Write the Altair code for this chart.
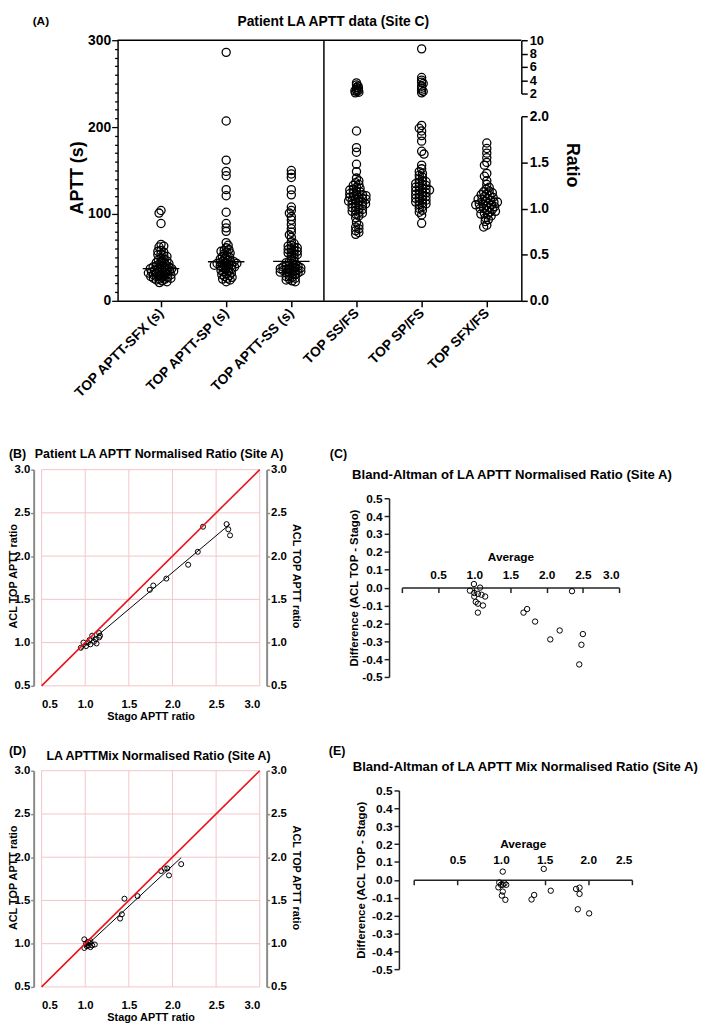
import json
import altair as alt
import pandas as pd

FONT = "Liberation Sans"
PINK = "#f4c4c7"
GREY = "#8a8a8a"
RED = "#e8141c"
W, H = 701, 1014

# ---------------- Panel A data ----------------
categories = ["TOP APTT-SFX (s)", "TOP APTT-SP (s)", "TOP APTT-SS (s)",
              "TOP SS/FS", "TOP SP/FS", "TOP SFX/FS"]

sfx_s = [104, 101, 89, 65, 63, 62, 58, 57, 56, 54, 53, 52, 51, 49, 48, 47, 46, 45, 44, 44,
         43, 42, 41, 41, 40, 39, 39, 38, 38, 37, 37, 36, 36, 35, 35, 34, 34, 33, 33, 33,
         32, 32, 31, 31, 30, 30, 29, 29, 28, 28, 27, 27, 26, 26, 25, 25, 24, 23, 22, 21]
sp_s = [286, 207, 162, 149, 144, 128, 121, 102, 89, 84, 80, 67, 64, 61, 59, 58, 57, 56, 55,
        54, 52, 51, 50, 49, 48, 47, 46, 45, 45, 44, 44, 43, 43, 42, 42, 41, 41, 40, 40, 39,
        38, 38, 37, 36, 35, 34, 33, 32, 31, 30, 29, 28, 27, 26, 25, 24, 22]
ss_s = [150, 146, 142, 128, 122, 108, 104, 101, 97, 93, 88, 83, 79, 76, 73, 68, 66, 64, 63,
        62, 61, 60, 59, 58, 57, 56, 55, 54, 53, 52, 50, 48, 46, 45, 44, 43, 42, 41, 40, 40,
        39, 39, 38, 38, 37, 37, 36, 36, 35, 35, 34, 34, 33, 33, 32, 32, 31, 30, 29, 28, 27,
        26, 25, 24, 23, 22]
ss_fs = [3.6, 3.3, 3.1, 2.9, 2.8, 2.6, 2.5, 2.4, 2.3, 2.2, 2.1, 1.84, 1.66, 1.61, 1.48,
         1.40, 1.33, 1.30, 1.28, 1.26, 1.25, 1.23, 1.22, 1.21, 1.20, 1.19, 1.18, 1.17, 1.16,
         1.15, 1.15, 1.14, 1.13, 1.12, 1.12, 1.11, 1.10, 1.10, 1.09, 1.08, 1.08, 1.07, 1.06,
         1.05, 1.05, 1.04, 1.03, 1.02, 1.01, 1.00, 0.99, 0.98, 0.97, 0.96, 0.95, 0.94, 0.92,
         0.90, 0.85, 0.82, 0.80, 0.78, 0.76, 0.74, 0.72]
sp_fs = [8.7, 4.4, 4.0, 3.7, 3.5, 3.1, 2.8, 2.5, 2.3, 2.1, 1.9, 1.87, 1.84, 1.79, 1.73, 1.62,
         1.59, 1.47, 1.43, 1.40, 1.38, 1.36, 1.34, 1.32, 1.30, 1.29, 1.28, 1.27, 1.26, 1.25,
         1.24, 1.23, 1.22, 1.21, 1.20, 1.20, 1.19, 1.18, 1.17, 1.16, 1.15, 1.14, 1.13, 1.12,
         1.11, 1.10, 1.09, 1.08, 1.07, 1.06, 1.05, 1.04, 1.02, 1.00, 0.98, 0.96, 0.93, 0.84]
sfx_fs = [1.71, 1.65, 1.60, 1.55, 1.50, 1.47, 1.38, 1.35, 1.30, 1.26, 1.23, 1.21, 1.19, 1.18,
          1.17, 1.16, 1.15, 1.14, 1.13, 1.12, 1.11, 1.10, 1.10, 1.09, 1.08, 1.07, 1.07, 1.06,
          1.05, 1.05, 1.04, 1.04, 1.03, 1.02, 1.01, 1.00, 1.00, 0.99, 0.98, 0.97, 0.96, 0.95,
          0.94, 0.93, 0.92, 0.90, 0.88, 0.86, 0.82, 0.80]

# ---------------- Panels B-E data ----------------
stago_B = [0.95, 0.98, 1.03, 1.01, 1.06, 1.08, 1.10, 1.12, 1.13, 1.16, 1.16, 1.17, 1.05,
           1.74, 1.78, 1.93, 2.18, 2.29, 2.35, 2.62, 2.64, 2.66]
acl_B = [0.94, 1.00, 1.00, 0.96, 0.98, 1.08, 1.01, 1.04, 0.99, 1.11, 1.06, 1.08, 1.03,
         1.61, 1.66, 1.74, 1.90, 2.05, 2.34, 2.37, 2.31, 2.24]

avg_C = [0.995, 0.94, 1.08, 1.0, 1.0, 1.05, 1.10, 1.15, 1.02, 1.05, 1.12, 1.05, 1.68, 1.73,
         1.84, 2.05, 2.18, 2.35, 2.50, 2.48, 2.45]
diff_C = [0.02, -0.017, 0.0, -0.03, -0.05, -0.035, -0.04, -0.05, -0.08, -0.09, -0.10, -0.14,
          -0.14, -0.12, -0.19, -0.29, -0.24, -0.02, -0.26, -0.32, -0.43]

stago_D = [0.99, 0.99, 1.01, 1.03, 1.04, 1.06, 1.06, 1.08, 1.11, 1.05, 1.02, 1.40, 1.42,
           1.45, 1.60, 1.87, 1.91, 1.94, 1.96, 2.10]
acl_D = [1.05, 0.95, 1.00, 1.02, 0.98, 0.96, 1.03, 0.98, 0.99, 1.01, 0.97, 1.29, 1.34,
         1.52, 1.55, 1.84, 1.87, 1.87, 1.79, 1.92]

avg_E = [1.02, 0.97, 0.98, 1.00, 1.02, 1.04, 1.06, 1.02, 1.01, 1.05, 1.49, 1.35, 1.38, 1.57,
         1.86, 1.90, 1.90, 1.88, 2.01]
diff_E = [0.046, -0.042, -0.015, -0.028, -0.028, -0.02, -0.028, -0.066, -0.088, -0.112,
          0.061, -0.11, -0.085, -0.061, -0.051, -0.044, -0.079, -0.165, -0.188]

grid_vals = [0.5, 1.0, 1.5, 2.0, 2.5, 3.0]

# ---------------- geometry (pixels inside the single view) ----------------
A_X = [110, 519]
A_APTT_Y = [289, 25]
A_LOW_Y = [289, 102]
A_HIGH_Y = [79, 25]
A_XDOM = [-0.6667, 5.530]
BAND = (A_X[1] - A_X[0]) / (A_XDOM[1] - A_XDOM[0])


def ypix(v, seg):
    if seg == "aptt":
        return A_APTT_Y[0] + (A_APTT_Y[1] - A_APTT_Y[0]) * v / 300.0
    if seg == "low":
        return A_LOW_Y[0] + (A_LOW_Y[1] - A_LOW_Y[0]) * v / 2.0
    return A_HIGH_Y[0] + (A_HIGH_Y[1] - A_HIGH_Y[0]) * (v - 2.0) / 8.0


def swarm(ys, d, step=0.4):
    order = sorted(range(len(ys)), key=lambda i: ys[i])
    placed, offs = [], [0.0] * len(ys)
    for n, i in enumerate(order):
        y = ys[i]
        k = 0
        found = None
        while found is None:
            if k == 0:
                cands = [0.0]
            else:
                cands = [k * step, -k * step] if n % 2 == 0 else [-k * step, k * step]
            for c in cands:
                if all((c - px) ** 2 + (y - py) ** 2 >= d * d for px, py in placed):
                    found = c
                    break
            k += 1
        offs[i] = found
        placed.append((found, y))
    return offs


SWARM_D = {"aptt": 3.3, "low": 3.6, "high": 2.0}
rows = []
for idx, vals in enumerate([sfx_s, sp_s, ss_s, ss_fs, sp_fs, sfx_fs]):
    ratio = idx >= 3
    segs = ["aptt"] if not ratio else ["low", "high"]
    for seg in segs:
        if seg == "aptt":
            sv = list(vals)
        elif seg == "low":
            sv = [v for v in vals if v <= 2.0]
        else:
            sv = [v for v in vals if v > 2.0]
        if not sv:
            continue
        offs = swarm([ypix(v, seg) for v in sv], d=SWARM_D[seg])
        for v, o in zip(sv, offs):
            rows.append({"idx": idx, "value": v, "off": o / BAND, "seg": seg,
                         "grp": "ratio" if ratio else "aptt"})
dfA = pd.DataFrame(rows)

one = alt.Data(values=[{}])


def txt(s, x, y, size, align="center"):
    return alt.Chart(one).mark_text(text=s, font=FONT, fontWeight="bold", fontSize=size,
                                    align=align, baseline="middle", color="black").encode(
        x=alt.value(x), y=alt.value(y))


def scl(domain, rng):
    return alt.Scale(domain=domain, range=rng, nice=False, zero=False)


layers = []

# ---------------- Panel A ----------------
lab_expr = json.dumps(categories) + "[datum.value]"
x_axis_A = alt.Axis(orient="bottom", offset=A_APTT_Y[0] - H, values=[0, 1, 2, 3, 4, 5],
                    labelExpr=lab_expr, labelAngle=-45, labelAlign="right",
                    labelBaseline="middle", labelFontSize=14, labelPadding=4, tickSize=6,
                    tickColor="black", tickWidth=1.5, domainColor="black", domainWidth=1.5,
                    grid=False, title=None, labelOverlap=False)


def xA(axis=None):
    return alt.X("xpos:Q", scale=scl(A_XDOM, A_X), axis=axis)


base = alt.Chart(dfA).transform_calculate(xpos="datum.idx + datum.off")
circ = dict(shape="circle", filled=False, color="black", size=68, strokeWidth=1.3, opacity=1)

layers.append(alt.Chart(one).mark_rule(color="black", strokeWidth=1.5).encode(
    x=alt.value(A_X[0]), x2=alt.value(A_X[1]), y=alt.value(A_APTT_Y[1])))
layers.append(alt.Chart(pd.DataFrame({"xpos": [2.5]})).mark_rule(
    color="black", strokeWidth=1.5).encode(
    x=xA(), y=alt.value(A_APTT_Y[1]), y2=alt.value(A_APTT_Y[0])))

# median line of the seconds columns
layers.append(
    alt.Chart(dfA).transform_filter("datum.grp == 'aptt'")
    .transform_aggregate(med="median(value)", groupby=["idx"])
    .transform_calculate(xpos="datum.idx - 0.28", xend="datum.idx + 0.28")
    .mark_rule(color="black", strokeWidth=1.3)
    .encode(x=xA(), x2="xend:Q", y=alt.Y("med:Q", scale=scl([0, 300], A_APTT_Y), axis=None)))

layers.append(base.transform_filter("datum.seg == 'aptt'").mark_point(**circ).encode(
    x=xA(x_axis_A),
    y=alt.Y("value:Q", scale=scl([0, 300], A_APTT_Y),
            axis=alt.Axis(orient="left", offset=-A_X[0], values=list(range(0, 301, 10)),
                          labelExpr="datum.value % 100 === 0 ? datum.label : ''",
                          tickSize={"condition": {"test": "datum.value % 100 === 0", "value": 6},
                                    "value": 3},
                          tickColor="black", tickWidth=1.3, domainColor="black", domainWidth=1.5,
                          labelFontSize=14, labelPadding=1, labelOverlap=False, grid=False,
                          title="APTT (s)", titleFontSize=18, titleX=-41, titleY=164,
                          titleAngle=-90, titleBaseline="middle", titleAlign="center"))))

layers.append(base.transform_filter("datum.seg == 'low'").mark_point(**circ).encode(
    x=xA(),
    y=alt.Y("value:Q", scale=scl([0, 2], A_LOW_Y),
            axis=alt.Axis(orient="right", offset=A_X[1] - W, values=[0, 0.5, 1, 1.5, 2],
                          format=".1f", tickSize=6, tickColor="black", tickWidth=1.5,
                          domainColor="black", domainWidth=1.5, labelFontSize=14,
                          labelPadding=2, grid=False, labelOverlap=False,
                          title="Ratio", titleFontSize=18, titleX=51, titleY=151, titleAngle=90,
                          titleBaseline="middle", titleAlign="center"))))

layers.append(base.transform_filter("datum.seg == 'high'").mark_point(**circ).encode(
    x=xA(),
    y=alt.Y("value:Q", scale=scl([2, 10], A_HIGH_Y),
            axis=alt.Axis(orient="right", offset=A_X[1] - W, values=[2, 4, 6, 8, 10],
                          format="d", tickSize=6, tickColor="black", tickWidth=1.5,
                          domainColor="black", domainWidth=1.5, labelFontSize=13,
                          labelPadding=2, grid=False, labelOverlap=False, title=None))))

layers.append(txt("(A)", 24, 6, 12, "left"))
layers.append(txt("Patient LA APTT data (Site C)", 328.5, 6.5, 14))


# ---------------- Panels B / D ----------------
def corr_panel(xs, ys, title, tag, xr, yr, tpos, tagpos, ytitle_y):
    df = pd.DataFrame({"stago": xs, "acl": ys})
    dom = [0.5, 3.0]
    out = []
    g = pd.DataFrame({"g": grid_vals})
    out.append(alt.Chart(g).mark_rule(color=PINK, strokeWidth=1).encode(
        x=alt.X("g:Q", scale=scl(dom, xr), axis=None), y=alt.value(yr[1]), y2=alt.value(yr[0])))
    out.append(alt.Chart(g).mark_rule(color=PINK, strokeWidth=1).encode(
        y=alt.Y("g:Q", scale=scl(dom, yr), axis=None), x=alt.value(xr[0]), x2=alt.value(xr[1])))
    xax = alt.Axis(orient="bottom", offset=yr[0] - H, values=grid_vals, format=".1f",
                   domain=False, ticks=False, grid=False, labelFontSize=11.5, labelPadding=13,
                   labelOverlap=False, title="Stago APTT ratio", titleFontSize=11,
                   titleY=31, titleX=(xr[0] + xr[1]) / 2.0, titleBaseline="middle",
                   titleAlign="center")
    common = dict(values=grid_vals, format=".1f", domainColor=GREY, domainWidth=2,
                  tickColor=GREY, tickWidth=1.5, tickSize=3, labelPadding=1,
                  labelFontSize=11.5, labelOverlap=False, grid=False,
                  title="ACL TOP APTT ratio", titleFontSize=11, titleY=ytitle_y,
                  titleBaseline="middle", titleAlign="center")
    yl = alt.Axis(orient="left", offset=-(xr[0] - 8), titleX=-20, titleAngle=-90, **common)
    yrax = alt.Axis(orient="right", offset=(xr[1] + 7) - W, titleX=29, titleAngle=90, **common)
    out.append(alt.Chart(df).mark_point(shape="circle", filled=False, color="black", size=26,
                                        strokeWidth=1, opacity=1).encode(
        x=alt.X("stago:Q", scale=scl(dom, xr), axis=xax),
        y=alt.Y("acl:Q", scale=scl(dom, yr), axis=yl)))
    out.append(alt.Chart(df).transform_regression("stago", "acl").mark_line(
        color="black", strokeWidth=1).encode(
        x=alt.X("stago:Q", scale=scl(dom, xr), axis=None),
        y=alt.Y("acl:Q", scale=scl(dom, yr), axis=None)))
    out.append(alt.Chart(pd.DataFrame({"v": [0.5, 3.0]})).mark_line(
        color=RED, strokeWidth=1.6).encode(
        x=alt.X("v:Q", scale=scl(dom, xr), axis=None),
        y=alt.Y("v:Q", scale=scl(dom, yr), axis=yrax)))
    out.append(txt(title, tpos[0], tpos[1], 12.6))
    out.append(txt(tag, tagpos[0], tagpos[1], 12.6, "left"))
    return out


# ---------------- Panels C / E ----------------
def ba_panel(avg, diff, title, tag, xmax, xr, yr, y_axis_x, lab_pad, avg_y, ytitle_x,
             tpos, tagpos):
    df = pd.DataFrame({"avg": avg, "diff": diff})
    xvals = [v / 2 for v in range(0, int(xmax * 2) + 1)]
    yvals = [0.5, 0.4, 0.3, 0.2, 0.1, 0.0, -0.1, -0.2, -0.3, -0.4, -0.5]
    zero_y = (yr[0] + yr[1]) / 2.0
    xax = alt.Axis(orient="bottom", offset=zero_y - H, values=xvals,
                   labelExpr="datum.value === 0 ? '' : format(datum.value, '.1f')",
                   domainColor="#222222", domainWidth=1.5, tickColor="#222222",
                   tickWidth=1.5, tickSize=5, labelBaseline="alphabetic",
                   labelPadding=lab_pad, labelFontSize=12, labelOverlap=False, grid=False,
                   title="Average", titleFontSize=12, titleY=avg_y,
                   titleX=(xr[0] + xr[1]) / 2.0, titleBaseline="middle",
                   titleAlign="center")
    yax = alt.Axis(orient="left", offset=-y_axis_x, values=yvals,
                   labelExpr="replace(format(datum.value, '.1f'), '\u2212', '-')",
                   domainColor="#222222", domainWidth=1.5, tickColor="#222222",
                   tickWidth=1.5, tickSize=5, labelPadding=2, labelFontSize=12,
                   labelOverlap=False, grid=False,
                   title="Difference (ACL TOP - Stago)", titleFontSize=11.5,
                   titleX=ytitle_x, titleY=zero_y, titleAngle=-90, titleBaseline="middle",
                   titleAlign="center")
    return [
        alt.Chart(df).mark_point(shape="circle", filled=False, color="black", size=30,
                                 strokeWidth=1, opacity=1).encode(
            x=alt.X("avg:Q", scale=scl([0, xmax], xr), axis=xax),
            y=alt.Y("diff:Q", scale=scl([-0.5, 0.5], yr), axis=yax)),
        txt(title, tpos[0], tpos[1], 13.3),
        txt(tag, tagpos[0], tagpos[1], 12.6, "left"),
    ]


layers += corr_panel(stago_B, acl_B, "Patient LA APTT Normalised Ratio (Site A)", "(B)",
                     [33, 254], [679, 460], (152, 444), (0, 444), 567.5)
layers += ba_panel(avg_C, diff_C, "Bland-Altman of LA APTT Normalised Ratio (Site A)", "(C)",
                   3.0, [398, 618], [670, 489], 385, -14.7, -31, -35, (509.5, 465), (325, 444))
layers += corr_panel(stago_D, acl_D, "LA APTTMix Normalised Ratio (Site A)", "(D)",
                     [33, 254], [984, 765], (151.5, 750), (0, 745), 873)
layers += ba_panel(avg_E, diff_E, "Bland-Altman of LA APTT Mix Normalised Ratio (Site A)",
                   "(E)", 2.5, [410, 631], [966, 785], 395, -21.7, -37, -38, (523, 761),
                   (324, 745))

chart = alt.layer(*layers).resolve_scale(x="independent", y="independent").properties(
    width=W, height=H, padding={"left": 0, "top": 0, "right": 0, "bottom": 0}
).configure_view(stroke=None).configure_axis(
    labelFont=FONT, titleFont=FONT, labelFontWeight="bold", titleFontWeight="bold",
    labelColor="black", titleColor="black"
)

chart.save("out.html", embed_options={"renderer": "svg", "actions": False})
